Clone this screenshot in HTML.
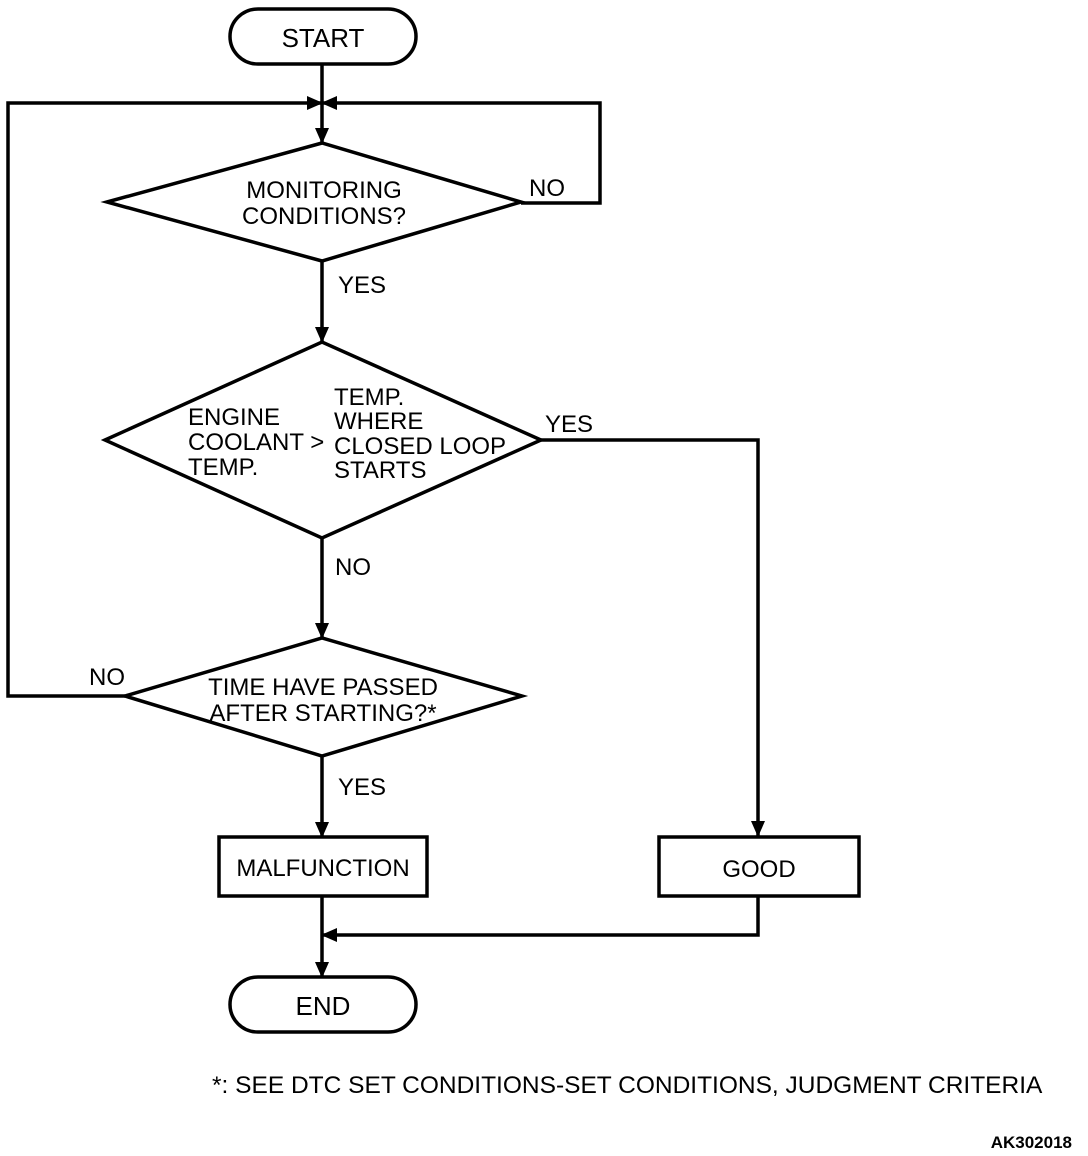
<!DOCTYPE html>
<html><head><style>body{margin:0;background:#fff}svg{display:block}text{font-family:"Liberation Sans",sans-serif;font-size:24px;fill:#000}</style></head><body>
<svg width="1088" height="1156" viewBox="0 0 1088 1156" xmlns="http://www.w3.org/2000/svg">
<defs><marker id="a" markerWidth="16" markerHeight="14" refX="15" refY="7" orient="auto" markerUnits="userSpaceOnUse"><path d="M0,0 L16,7 L0,14 z" fill="#000"/></marker></defs>
<g fill="none" stroke="#000" stroke-width="3.5">
<rect x="230" y="9" width="186" height="55" rx="28"/>
<rect x="230" y="977" width="186" height="55" rx="28"/>
<polygon points="107,202 322,143 521,202 322,261"/>
<polygon points="105,440 322,342 541,440 322,538"/>
<polygon points="125,696 322,638 522,696 322,756"/>
<rect x="219" y="837" width="208" height="59"/>
<rect x="659" y="837" width="200" height="59"/>
<line x1="322" y1="64" x2="322" y2="143" marker-end="url(#a)"/>
<polyline points="125,696 8,696 8,103 322,103" marker-end="url(#a)"/>
<polyline points="521,203 600,203 600,103 322,103" marker-end="url(#a)"/>
<line x1="322" y1="261" x2="322" y2="342" marker-end="url(#a)"/>
<line x1="322" y1="538" x2="322" y2="638" marker-end="url(#a)"/>
<line x1="322" y1="756" x2="322" y2="837" marker-end="url(#a)"/>
<polyline points="541,440 758,440 758,836" marker-end="url(#a)"/>
<line x1="322" y1="896" x2="322" y2="977" marker-end="url(#a)"/>
<polyline points="758,896 758,935 322,935" marker-end="url(#a)"/>
</g>
<text x="323" y="47" text-anchor="middle" style="font-size:26px">START</text>
<text x="323" y="1015" text-anchor="middle" style="font-size:26px">END</text>
<text x="324" y="198" text-anchor="middle">MONITORING</text>
<text x="324" y="224" text-anchor="middle">CONDITIONS?</text>
<text x="529" y="196">NO</text>
<text x="338" y="293">YES</text>
<text x="188" y="425">ENGINE</text>
<text x="188" y="450">COOLANT &gt;</text>
<text x="188" y="475">TEMP.</text>
<text x="334" y="405">TEMP.</text>
<text x="334" y="429">WHERE</text>
<text x="334" y="454">CLOSED LOOP</text>
<text x="334" y="478">STARTS</text>
<text x="545" y="432">YES</text>
<text x="335" y="575">NO</text>
<text x="89" y="685">NO</text>
<text x="323" y="695" text-anchor="middle">TIME HAVE PASSED</text>
<text x="323" y="721" text-anchor="middle">AFTER STARTING?*</text>
<text x="338" y="795">YES</text>
<text x="323" y="876" text-anchor="middle">MALFUNCTION</text>
<text x="759" y="877" text-anchor="middle">GOOD</text>
<text x="212" y="1093" style="font-size:24.5px">*: SEE DTC SET CONDITIONS-SET CONDITIONS, JUDGMENT CRITERIA</text>
<text x="1072" y="1148" text-anchor="end" style="font-size:17px;font-weight:bold">AK302018</text>
</svg>
</body></html>
